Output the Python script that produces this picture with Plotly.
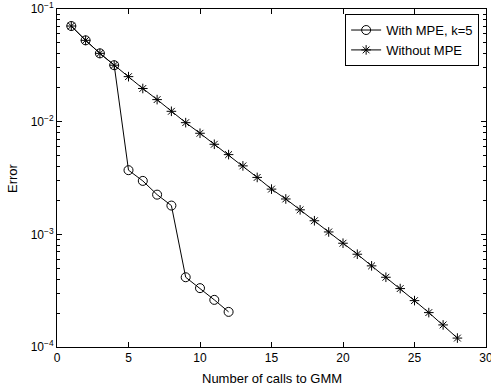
import plotly.graph_objects as go

# Data
calls_mpe = [1, 2, 3, 4, 5, 6, 7, 8, 9, 10, 11, 12]
error_mpe = [0.0706, 0.0527, 0.0404, 0.0317, 0.00371, 0.00298, 0.00225, 0.00180,
             0.000416, 0.000333, 0.000262, 0.000205]

calls_plain = list(range(1, 29))
error_plain = [0.0706, 0.0527, 0.0404, 0.0317, 0.0251, 0.0197, 0.0157, 0.01236,
               0.0098, 0.00789, 0.00630, 0.00510, 0.00405, 0.00320, 0.00252,
               0.00206, 0.00165, 0.00132, 0.00105, 0.000834, 0.000666, 0.000525,
               0.000416, 0.000330, 0.000258, 0.000202, 0.000157, 0.000120]

x_ticks = [0, 5, 10, 15, 20, 25, 30]
y_ticks = [1e-4, 1e-3, 1e-2, 1e-1]
y_ticktext = ["10<sup>−4</sup>", "10<sup>−3</sup>", "10<sup>−2</sup>", "10<sup>−1</sup>"]
y_minor = [m * 10.0 ** e for e in (-4, -3, -2) for m in range(2, 10)]

FONT = "Liberation Sans, Arial, Helvetica, sans-serif"

fig = go.Figure()
fig.add_trace(go.Scatter(
    x=calls_mpe, y=error_mpe, mode="lines+markers", name="With MPE, k=5",
    line=dict(color="black", width=1),
    marker=dict(symbol="circle-open", size=9, color="black", line=dict(width=1, color="black")),
))
fig.add_trace(go.Scatter(
    x=calls_plain, y=error_plain, mode="lines+markers", name="Without MPE",
    line=dict(color="black", width=1),
    marker=dict(symbol="asterisk-open", size=8, color="black", line=dict(width=1, color="black")),
))

axis_common = dict(
    showline=True, linecolor="black", linewidth=1, mirror="ticks",
    ticks="inside", ticklen=5, tickwidth=1, tickcolor="black",
    showgrid=False, zeroline=False, automargin=False,
    ticklabeloverflow="allow",
    tickfont=dict(family=FONT, size=12, color="black"),
)

fig.update_xaxes(range=[0, 30], tickvals=x_ticks, **axis_common)
fig.update_yaxes(
    type="log", range=[-4, -1], tickvals=y_ticks, ticktext=y_ticktext,
    minor=dict(tickvals=y_minor, ticks="inside", ticklen=3, tickcolor="black",
               tickwidth=1, showgrid=False),
    **axis_common,
)

fig.add_annotation(text="Number of calls to GMM", xref="paper", yref="paper",
                   x=0.5, y=0, yshift=-31, showarrow=False, yanchor="middle",
                   font=dict(family=FONT, size=13, color="black"))
fig.add_annotation(text="Error", xref="paper", yref="paper", textangle=-90,
                   x=0, y=0.5, xshift=-45, showarrow=False, xanchor="center",
                   font=dict(family=FONT, size=13, color="black"))

fig.update_layout(
    width=491, height=387,
    margin=dict(l=57, r=5, t=9, b=40),
    paper_bgcolor="white", plot_bgcolor="white",
    font=dict(family=FONT, size=12, color="black"),
    showlegend=True,
    legend=dict(
        x=0.984, y=0.985, xanchor="right", yanchor="top",
        bgcolor="white", bordercolor="black", borderwidth=1,
        font=dict(family=FONT, size=13, color="black"),
        tracegroupgap=0,
    ),
)

fig.write_html("out.html", config={"displayModeBar": False},
               post_script="document.body.style.margin='0';document.body.style.padding='0';")
